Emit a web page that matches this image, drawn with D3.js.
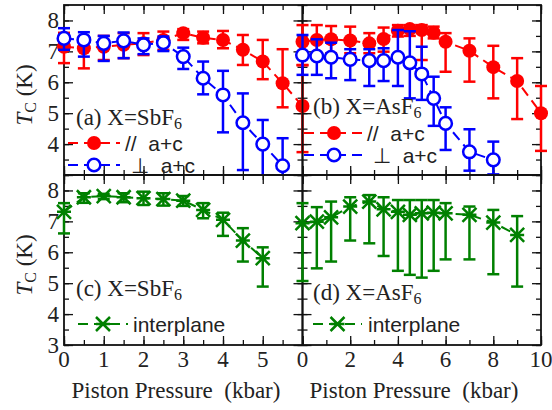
<!DOCTYPE html>
<html>
<head>
<meta charset="utf-8">
<script src="https://cdn.jsdelivr.net/npm/d3@7"></script>
<style>
  body { margin: 0; background: #fff; }
  svg text { fill: #222; white-space: pre; }
</style>
</head>
<body>
<svg id="chart" width="552" height="410"></svg>
<script>
// ---- data ----
// (a) X=SbF6
var aP = [0, 0.5, 1, 1.5, 2, 2.5, 3, 3.5, 4, 4.5, 5, 5.5, 6];
var aParT  = [7.15, 7.10, 7.15, 7.21, 7.26, 7.37, 7.59, 7.44, 7.37, 7.05, 6.67, 5.97, 5.23];
var aParHi = [7.60, 7.48, 7.50, 7.59, 7.59, 7.64, 7.72, 7.64, 7.66, 7.53, 7.37, 7.07, 6.56];
var aParLo = [6.62, 6.45, 6.72, 6.78, 6.88, 7.05, 7.37, 7.26, 7.10, 6.56, 6.10, 5.19, 3.74];
var aPerP  = [0, 0.5, 1, 1.5, 2, 2.5, 3, 3.5, 4, 4.5, 5, 5.5];
var aPerT  = [7.42, 7.37, 7.26, 7.34, 7.21, 7.28, 6.83, 6.13, 5.59, 4.69, 4.00, 3.30];
var aPerHi = [7.75, 7.62, 7.50, 7.61, 7.42, 7.48, 7.12, 6.67, 6.37, 5.64, 4.78, 4.19];
var aPerLo = [7.05, 6.83, 6.69, 6.78, 6.91, 7.01, 6.43, 5.61, 4.38, 3.16, 2.90, 2.50];

// (b) X=AsF6
var bParP  = [0, 0.6, 1.2, 2, 2.8, 3.4, 4, 4.5, 5, 5.5, 6, 7, 8, 9, 10];
var bParT  = [7.31, 7.37, 7.39, 7.35, 7.26, 7.40, 7.67, 7.72, 7.69, 7.60, 7.31, 7.02, 6.49, 6.04, 5.00];
var bParHi = [7.85, 7.85, 7.82, 7.80, 7.59, 7.77, 7.85, 7.85, 7.85, 7.80, 7.59, 7.42, 7.18, 6.78, 5.88];
var bParLo = [6.55, 6.78, 6.94, 6.94, 6.94, 6.99, 7.48, 7.50, 6.72, 7.42, 6.34, 6.02, 5.48, 4.81, 3.78];
var bPerP  = [0, 0.6, 1.2, 2, 2.8, 3.4, 4, 4.5, 5, 5.5, 6, 7, 8];
var bPerT  = [6.88, 6.85, 6.81, 6.74, 6.70, 6.70, 6.81, 6.63, 6.27, 5.48, 4.67, 3.75, 3.49];
var bPerHi = [7.53, 7.39, 7.28, 7.07, 7.07, 7.10, 7.69, 7.65, 7.15, 6.18, 5.19, 4.48, 4.08];
var bPerLo = [6.24, 6.24, 6.13, 6.07, 5.88, 6.04, 5.88, 5.48, 5.43, 4.59, 3.81, 3.14, 3.02];

// (c) X=SbF6 interplane
var cP  = [0, 0.5, 1, 1.5, 2, 2.5, 3, 3.5, 4, 4.5, 5];
var cT  = [7.31, 7.78, 7.82, 7.78, 7.75, 7.72, 7.67, 7.37, 7.05, 6.38, 5.81];
var cHi = [7.59, 7.91, 7.89, 7.91, 7.96, 7.91, 7.82, 7.59, 7.28, 6.78, 6.16];
var cLo = [6.61, 7.60, 7.72, 7.62, 7.53, 7.51, 7.50, 7.10, 6.53, 5.70, 4.89];

// (d) X=AsF6 interplane
var dP  = [0, 0.6, 1.2, 2, 2.8, 3.4, 4, 4.5, 5, 5.5, 6, 7, 8, 9];
var dT  = [6.94, 6.99, 7.13, 7.48, 7.64, 7.39, 7.31, 7.21, 7.26, 7.28, 7.26, 7.21, 6.96, 6.56];
var dHi = [7.59, 7.46, 7.64, 7.78, 7.85, 7.78, 7.69, 7.69, 7.69, 7.69, 7.59, 7.48, 7.37, 7.17];
var dLo = [5.07, 5.48, 5.70, 6.38, 6.29, 5.88, 5.40, 5.27, 5.18, 5.40, 5.77, 5.77, 5.29, 4.89];

var yTicks = [3, 4, 5, 6, 7, 8];

var RED = "#ff0000", BLUE = "#0000ff", GREEN = "#008000";
var serif = "'Liberation Serif', 'Times New Roman', serif";
var sans = "'Liberation Sans', Arial, sans-serif";

var svg = d3.select("#chart");

function zip(p, t, hi, lo) {
    return p.map(function (v, i) { return { p: v, t: t[i], hi: hi[i], lo: lo[i] }; });
}

function drawPanel(o) {
    var x = d3.scaleLinear().domain(o.xDomain).range([o.left, o.right]);
    var y = d3.scaleLinear().domain([3, 8.5]).range([o.bottom, o.top]);
    var g = svg.append("g");

    // minor + major ticks on all four sides, pointing inward
    var xMinor = d3.range(o.xDomain[0], o.xDomain[1] + 1e-9, o.xMinor);
    var yMinor = d3.range(3, 8.5 + 1e-9, 0.5);
    var xMajor = d3.range(o.xDomain[0], o.xDomain[1] + 1e-9, o.xMajor);

    [[d3.axisBottom, o.bottom], [d3.axisTop, o.top]].forEach(function (s) {
        g.append("g").attr("transform", "translate(0," + s[1] + ")")
            .call(s[0](x).tickValues(xMinor).tickSize(-5).tickFormat(""));
        g.append("g").attr("transform", "translate(0," + s[1] + ")")
            .call(s[0](x).tickValues(xMajor).tickSize(-9).tickFormat(""));
    });
    [[d3.axisLeft, o.left], [d3.axisRight, o.right]].forEach(function (s) {
        g.append("g").attr("transform", "translate(" + s[1] + ",0)")
            .call(s[0](y).tickValues(yMinor).tickSize(-5).tickFormat(""));
        g.append("g").attr("transform", "translate(" + s[1] + ",0)")
            .call(s[0](y).tickValues(yTicks).tickSize(-9).tickFormat(""));
    });
    g.selectAll(".domain").remove();
    g.selectAll(".tick line").attr("stroke", "#111").attr("stroke-width", 1.3);

    g.append("rect")
        .attr("x", o.left).attr("y", o.top)
        .attr("width", o.right - o.left).attr("height", o.bottom - o.top)
        .attr("fill", "none").attr("stroke", "#111").attr("stroke-width", 1.8);

    // tick labels
    if (o.yLabels) {
        g.selectAll(".yl").data(yTicks.filter(function (v) { return v >= o.yMinLabel; }))
            .enter().append("text")
            .attr("x", o.left - 5).attr("y", function (d) { return y(d) + 8; })
            .attr("text-anchor", "end")
            .style("font-family", serif).style("font-size", "23px")
            .text(function (d) { return d; });
    }
    if (o.xLabels) {
        g.selectAll(".xl").data(o.xLabels)
            .enter().append("text")
            .attr("x", function (d) { return x(d); }).attr("y", o.bottom + 22)
            .attr("text-anchor", "middle")
            .style("font-family", serif).style("font-size", "23px")
            .text(function (d) { return d; });
    }

    o.series.forEach(function (s) {
        var pts = zip(s.p, s.t, s.hi, s.lo);
        var sg = g.append("g");
        // dashed connecting line
        sg.append("path")
            .attr("d", d3.line().x(function (d) { return x(d.p); }).y(function (d) { return y(d.t); })(pts))
            .attr("fill", "none").attr("stroke", s.color)
            .attr("stroke-width", 2).attr("stroke-dasharray", "10,6");
        // error bars (clipped to the frame)
        pts.forEach(function (d) {
            var hi = Math.min(d.hi, 8.5), lo = Math.max(d.lo, 3);
            var cx = x(d.p);
            sg.append("line").attr("x1", cx).attr("x2", cx)
                .attr("y1", y(hi)).attr("y2", y(lo))
                .attr("stroke", s.color).attr("stroke-width", 2.5);
            if (d.hi <= 8.5) sg.append("line").attr("x1", cx - 6).attr("x2", cx + 6)
                .attr("y1", y(hi)).attr("y2", y(hi)).attr("stroke", s.color).attr("stroke-width", 2.5);
            if (d.lo >= 3) sg.append("line").attr("x1", cx - 6).attr("x2", cx + 6)
                .attr("y1", y(lo)).attr("y2", y(lo)).attr("stroke", s.color).attr("stroke-width", 2.5);
        });
        pts.forEach(function (d) { marker(sg, s.marker, x(d.p), y(d.t), s.color); });
    });

    // panel label + legend
    var lab = g.append("text")
        .attr("x", o.labelX).attr("y", o.labelY)
        .style("font-family", serif).style("font-size", "23px");
    lab.append("tspan").text(o.label);
    lab.append("tspan").attr("dy", 4).style("font-size", "16px").text("6");

    o.legend.forEach(function (l) {
        g.append("line").attr("x1", l.x1).attr("x2", l.x2).attr("y1", l.y).attr("y2", l.y)
            .attr("stroke", l.color).attr("stroke-width", 2).attr("stroke-dasharray", "10,6");
        marker(g, l.marker, (l.x1 + l.x2) / 2, l.y, l.color);
        g.append("text").attr("x", l.tx).attr("y", l.y + 8)
            .style("font-family", sans).style("font-size", "21px")
            .text(l.text);
    });
}

function marker(g, type, cx, cy, color) {
    if (type === "filled") {
        g.append("circle").attr("cx", cx).attr("cy", cy).attr("r", 7).attr("fill", color);
    } else if (type === "open") {
        g.append("circle").attr("cx", cx).attr("cy", cy).attr("r", 6.3)
            .attr("fill", "#fff").attr("stroke", color).attr("stroke-width", 2.5);
    } else {
        var r = 7;
        g.append("path")
            .attr("d", "M" + (cx - r) + "," + (cy - r) + "L" + (cx + r) + "," + (cy + r) +
                "M" + (cx - r) + "," + (cy + r) + "L" + (cx + r) + "," + (cy - r) +
                "M" + (cx - r) + "," + cy + "L" + (cx + r) + "," + cy)
            .attr("stroke", color).attr("stroke-width", 2.5).attr("fill", "none");
    }
}

var L = 64, M = 302.5, R = 541, T1 = 5, B1 = 175, B2 = 345;

drawPanel({
    left: L, right: M, top: T1, bottom: B1, xDomain: [0, 6], xMinor: 0.5, xMajor: 1,
    yLabels: true, yMinLabel: 4,
    series: [
        { p: aP, t: aParT, hi: aParHi, lo: aParLo, color: RED, marker: "filled" },
        { p: aPerP, t: aPerT, hi: aPerHi, lo: aPerLo, color: BLUE, marker: "open" }
    ],
    label: "(a) X=SbF", labelX: 76, labelY: 125,
    legend: [
        { x1: 68, x2: 120, y: 143, color: RED, marker: "filled", tx: 125, text: "//  a+c" },
        { x1: 68, x2: 120, y: 165, color: BLUE, marker: "open", tx: 131, text: "\u22A5  a+c" }
    ]
});
drawPanel({
    left: M, right: R, top: T1, bottom: B1, xDomain: [0, 10], xMinor: 1, xMajor: 2,
    series: [
        { p: bParP, t: bParT, hi: bParHi, lo: bParLo, color: RED, marker: "filled" },
        { p: bPerP, t: bPerT, hi: bPerHi, lo: bPerLo, color: BLUE, marker: "open" }
    ],
    label: "(b) X=AsF", labelX: 313, labelY: 114,
    legend: [
        { x1: 304, x2: 364, y: 133, color: RED, marker: "filled", tx: 367, text: "//  a+c" },
        { x1: 304, x2: 364, y: 155, color: BLUE, marker: "open", tx: 373, text: "\u22A5  a+c" }
    ]
});
drawPanel({
    left: L, right: M, top: B1, bottom: B2, xDomain: [0, 6], xMinor: 0.5, xMajor: 1,
    yLabels: true, yMinLabel: 3, xLabels: [0, 1, 2, 3, 4, 5],
    series: [{ p: cP, t: cT, hi: cHi, lo: cLo, color: GREEN, marker: "cross" }],
    label: "(c) X=SbF", labelX: 76, labelY: 296,
    legend: [{ x1: 78, x2: 128, y: 324, color: GREEN, marker: "cross", tx: 133, text: "interplane" }]
});
drawPanel({
    left: M, right: R, top: B1, bottom: B2, xDomain: [0, 10], xMinor: 1, xMajor: 2,
    xLabels: [0, 2, 4, 6, 8, 10],
    series: [{ p: dP, t: dT, hi: dHi, lo: dLo, color: GREEN, marker: "cross" }],
    label: "(d) X=AsF", labelX: 313, labelY: 300,
    legend: [{ x1: 313, x2: 362, y: 324, color: GREEN, marker: "cross", tx: 368, text: "interplane" }]
});

// axis titles
[[176, 398], [414, 398]].forEach(function (p) {
    svg.append("text").attr("x", p[0]).attr("y", p[1]).attr("text-anchor", "middle")
        .style("font-family", serif).style("font-size", "23px")
        .text("Piston Pressure  (kbar)");
});
[95, 265].forEach(function (cy) {
    var t = svg.append("text")
        .attr("transform", "translate(32," + cy + ") rotate(-90)")
        .attr("text-anchor", "middle")
        .style("font-family", serif).style("font-size", "23px");
    t.append("tspan").style("font-style", "italic").text("T");
    t.append("tspan").attr("dy", 4).style("font-size", "16px").text("C");
    t.append("tspan").attr("dy", -4).text(" (K)");
});
</script>
</body>
</html>
